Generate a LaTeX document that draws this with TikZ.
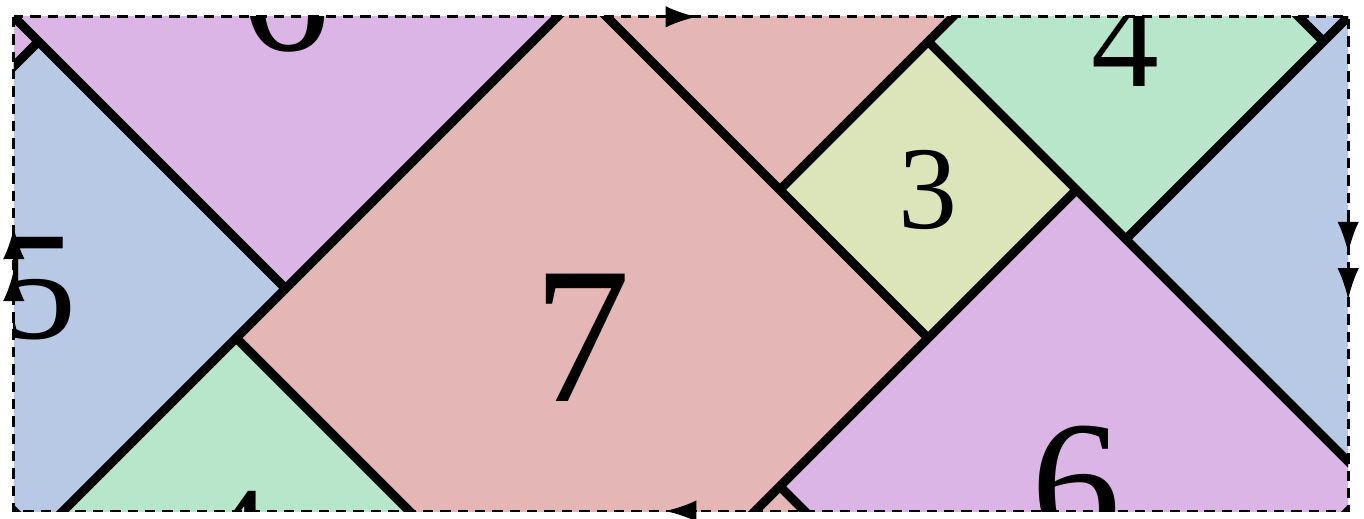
\documentclass[tikz,border=0pt]{standalone}
\usepackage{fontspec}
\setmainfont{Liberation Serif}
\usepackage{xcolor}
\usepackage{tikz}
\usetikzlibrary{shapes.geometric, arrows.meta}
\definecolor{tilepink}{RGB}{229, 182, 182}
\definecolor{tilepurple}{RGB}{219, 181, 229}
\definecolor{tileblue}{RGB}{184, 201, 230}
\definecolor{tilegreen}{RGB}{183, 230, 203}
\definecolor{tileyellow}{RGB}{220, 229, 186}

\begin{document}
\begin{tikzpicture}[
    y=-1cm,
    tile/.style={diamond, draw=black, line width=2pt, inner sep=0pt},
    square7/.style={tile, minimum size=7cm, fill=tilepink, font=\fontsize{56}{56}\selectfont},
    square6/.style={tile, minimum size=6cm, fill=tilepurple, font=\fontsize{51.5}{51.5}\selectfont},
    square5/.style={tile, minimum size=5cm, fill=tileblue, font=\fontsize{44.5}{44.5}\selectfont},
    square4/.style={tile, minimum size=4cm, fill=tilegreen, font=\fontsize{39}{39}\selectfont},
    square3/.style={tile, minimum size=3cm, fill=tileyellow, font=\fontsize{34}{34}\selectfont},
    border/.style={line width=0.8pt, dash pattern=on 3pt off 2pt},
    glue/.style={line width=0.8pt, -{Latex[length=9pt, width=6.2pt]}}
]

    \useasboundingbox (-0.14,-0.17) rectangle (13.66,5.08);

    \begin{scope}
        \clip (0,0) rectangle (13.5,5);
        \node[square7] (sevenA) at (5.75,3.25) {7};
        \node[square7] (sevenB) at (7.75,8.25) {};
        \node[square7] (sevenC) at (7.75,-1.75) {};
        \node[square6] (sixA) at (2.75,-0.25) {6};
        \node[square6] (sixB) at (10.75,4.75) {6};
        \node[square6] (sixC) at (-2.75,0.25) {};
        \node[square5] (fiveA) at (0.25,2.75) {5};
        \node[square5] (fiveB) at (13.75,2.25) {};
        \node[square5] (fiveC) at (13.25,-2.25) {};
        \node[square4] (fourA) at (11.25,0.25) {4};
        \node[square4] (fourB) at (2.25,5.25) {4};
        \node[square3] (three) at (9.25,1.75) {3};
    \end{scope}

    \draw[border] (0,0) rectangle (13.5,5);

    \draw[glue] (6.59,0) -- (6.91,0);
    \draw[glue] (6.91,5) -- (6.59,5);
    \draw[glue] (13.5,2.07) -- (13.5,2.39);
    \draw[glue] (13.5,2.54) -- (13.5,2.86);
    \draw[glue] (0,2.455) -- (0,2.135);
    \draw[glue] (0,2.88) -- (0,2.56);

\end{tikzpicture}
\end{document}
